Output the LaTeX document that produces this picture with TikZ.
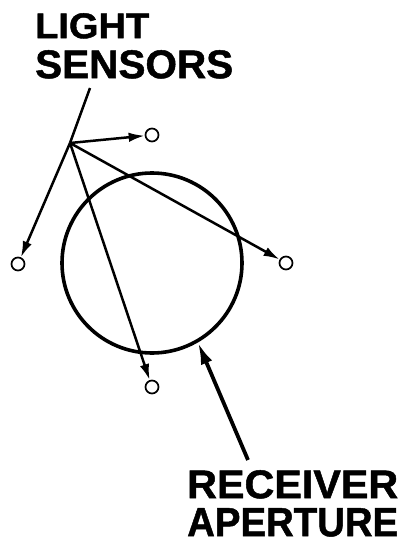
\documentclass[tikz,border=0pt]{standalone}
\usepackage{fontspec}
\setmainfont{Liberation Sans}
\newfontfamily\heavyfont[FakeBold=1.2]{Liberation Sans}
\usetikzlibrary{arrows.meta}
\tikzset{
  sensor/.style={circle,draw,line width=1.7pt,fill=white,minimum size=13pt,inner sep=0pt},
  ray/.style={line width=2.5pt},
  rayarrow/.style={ray,-{Latex[length=16pt,width=9.5pt]}},
  lbl/.style={inner sep=0pt,anchor=north west,font=\heavyfont\bfseries},
  aperture/.style={draw,line width=3.6pt,circle,minimum size=180pt,inner sep=0pt},
}
\begin{document}
\begin{tikzpicture}[x=1pt,y=-1pt]
\useasboundingbox (0,0) rectangle (407,544);
% labels
\node[lbl] (light) at (35,13) {\resizebox{114pt}{25pt}{LIGHT}};
\node[lbl] (sensors) at (35,50) {\resizebox{198pt}{28pt}{SENSORS}};
\node[lbl] (receiver) at (187,470) {\resizebox{211pt}{28pt}{RECEIVER}};
\node[lbl] (apert) at (187,508) {\resizebox{211pt}{28pt}{APERTURE}};
% receiver aperture
\node[aperture] (ap) at (152,263) {};
% source point and sensors
\coordinate (P) at (70,143);
\coordinate (lab) at (90,88);
\coordinate (rtail) at (248,460);
\node[sensor] (s1) at (18,264) {};
\node[sensor] (s2) at (152,135) {};
\node[sensor] (s3) at (286,263) {};
\node[sensor] (s4) at (152,387) {};
\draw[ray] (lab) -- (P);
\draw[rayarrow] (P) -- (s1);
\draw[rayarrow] (P) -- (s2);
\draw[rayarrow] (P) -- (s3);
\draw[rayarrow] (P) -- (s4);
% receiver pointer
\draw[line width=3.8pt,-{Latex[length=22pt,width=12pt]}] (rtail) -- (ap.-60);
\end{tikzpicture}
\end{document}
